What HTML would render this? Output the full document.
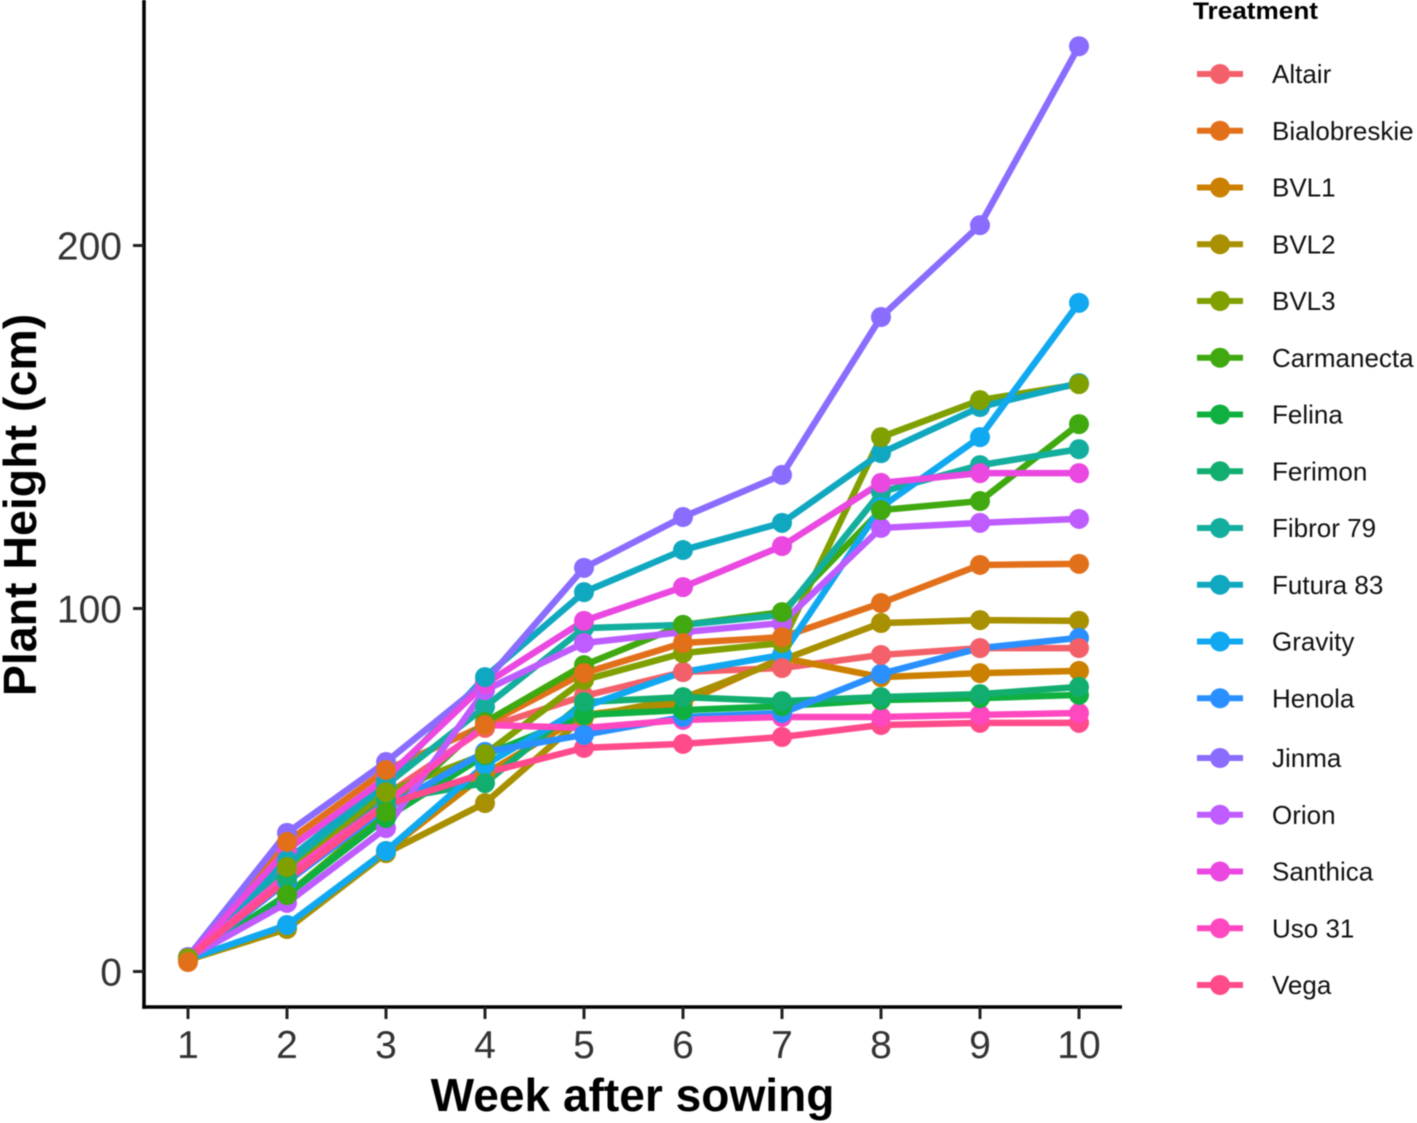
<!DOCTYPE html>
<html lang="en">
<head>
<meta charset="utf-8">
<title>Plant Height by Treatment</title>
<style>
html,body{margin:0;padding:0;background:#fff;}
svg{display:block;font-family:"Liberation Sans",Arial,sans-serif;filter:blur(0.5px);}
</style>
</head>
<body>
<svg id="chart" xmlns="http://www.w3.org/2000/svg" width="1417" height="1123" viewBox="0 0 1417 1123">
  <rect x="0" y="0" width="1417" height="1123" fill="#ffffff"/>
  <g id="marks"></g>
  <g id="axes"></g>
  <g id="legend"></g>
  <text x="632.5" y="1111" text-anchor="middle" font-size="46.1" font-weight="700" fill="#000">Week after sowing</text>
  <text transform="translate(36,505) rotate(-90)" text-anchor="middle" font-size="46.5" font-weight="700" fill="#000">Plant Height (cm)</text>
  <text x="1193" y="19" font-weight="700" fill="#000" style="font-size:24px" textLength="125" lengthAdjust="spacingAndGlyphs">Treatment</text>
</svg>
<script>
const weeks = [1, 2, 3, 4, 5, 6, 7, 8, 9, 10];
const yTicks = [0, 100, 200];
const treatments = ["Altair", "Bialobreskie", "BVL1", "BVL2", "BVL3", "Carmanecta", "Felina", "Ferimon", "Fibror 79", "Futura 83", "Gravity", "Henola", "Jinma", "Orion", "Santhica", "Uso 31", "Vega"];
const colors = ["#F4606A", "#E2701B", "#CC8000", "#A89000", "#80A000", "#3FA90F", "#10B040", "#12AE70", "#14AE9E", "#10A8C0", "#10A8F0", "#2A90FF", "#8A6CFF", "#BE5CFF", "#EA48E0", "#FF48C0", "#FF4A8C"];
const altair = [3.4, 27.4, 48.6, 67.1, 75.9, 82.5, 83.6, 87.2, 89.1, 89.1];
const bialobreskie = [2.6, 35.7, 55.5, 67.9, 82.2, 90.5, 92.1, 101.5, 112.0, 112.3];
const bvl1 = [3.2, 12.0, 33.2, 54.4, 70.7, 74.0, 86.4, 81.1, 82.2, 82.8];
const bvl2 = [3.2, 11.7, 32.6, 46.4, 70.1, 75.3, 85.8, 96.0, 96.8, 96.6];
const bvl3 = [3.7, 28.8, 49.4, 59.9, 80.3, 87.7, 90.5, 147.2, 157.4, 161.8];
const carmanecta = [3.4, 21.1, 43.9, 68.7, 84.4, 95.5, 99.0, 127.1, 129.6, 150.8];
const felina = [3.4, 21.1, 42.3, 59.6, 70.7, 72.0, 73.1, 74.8, 75.3, 76.2];
const ferimon = [3.4, 25.8, 47.2, 51.9, 74.2, 75.6, 74.5, 75.6, 76.4, 78.4];
const fibror79 = [3.7, 29.3, 51.4, 72.9, 94.6, 95.5, 98.2, 132.1, 139.5, 143.9];
const futura83 = [3.7, 30.7, 52.2, 81.1, 104.5, 116.1, 123.6, 142.8, 155.5, 162.1];
const gravity = [3.4, 12.8, 33.2, 56.9, 72.9, 82.5, 87.2, 127.9, 147.2, 184.2];
const henola = [3.4, 24.7, 45.0, 60.5, 65.2, 70.1, 71.2, 82.0, 89.1, 91.9];
const jinma = [4.0, 38.2, 57.7, 79.8, 111.2, 125.2, 136.8, 180.3, 205.6, 254.9];
const orion = [3.7, 18.9, 39.5, 77.5, 90.5, 93.5, 96.0, 122.2, 123.6, 124.7];
const santhica = [3.7, 33.5, 53.3, 79.2, 96.6, 105.9, 117.2, 134.6, 137.3, 137.3];
const uso31 = [3.7, 26.6, 46.4, 67.9, 67.1, 69.3, 70.1, 70.1, 70.7, 71.2];
const vega = [3.7, 25.2, 45.9, 54.7, 61.6, 62.7, 64.6, 67.9, 68.5, 68.5];
const seriesValues = [altair, bialobreskie, bvl1, bvl2, bvl3, carmanecta, felina, ferimon, fibror79, futura83, gravity, henola, jinma, orion, santhica, uso31, vega];
const pointOrder = ["Vega", "Jinma", "Fibror 79", "Orion", "Santhica", "Uso 31", "BVL1", "BVL2", "Henola", "Gravity", "Altair", "Futura 83", "Felina", "Ferimon", "Carmanecta", "BVL3", "Bialobreskie"];

const NS = "http://www.w3.org/2000/svg";
function xScale(w) { return 188 + (w - 1) * 99; }
function yScale(v) { return 971.5 - v * 3.63; }
function legendY(i) { return 74 + i * 56.75 + (i >= 12 ? 3 : 0); }
function make(tag, attrs, parent) {
  const el = document.createElementNS(NS, tag);
  for (const k in attrs) el.setAttribute(k, attrs[k]);
  parent.appendChild(el);
  return el;
}
function slug(s) { return s.toLowerCase().replace(/\s+/g, "-"); }

const marks = document.getElementById("marks");
const axes = document.getElementById("axes");
const legend = document.getElementById("legend");

treatments.forEach(function (name, i) {
  const pts = weeks.map(function (w, j) { return xScale(w) + "," + yScale(seriesValues[i][j]); }).join(" ");
  const line = make("polyline", { points: pts, fill: "none", stroke: colors[i], "stroke-width": 6.5, "stroke-linejoin": "round" }, marks);
  
  
});

pointOrder.forEach(function (name) {
  const i = treatments.indexOf(name);
  weeks.forEach(function (w, j) {
    const dot = make("circle", { cx: xScale(w), cy: yScale(seriesValues[i][j]), r: 10, fill: colors[i] }, marks);
    
    
  });
});

const yAxisLine = make("line", { x1: 144, y1: 0, x2: 144, y2: 1008.7, stroke: "#000", "stroke-width": 3.5 }, axes);


const xAxisLine = make("line", { x1: 142.3, y1: 1007, x2: 1122, y2: 1007, stroke: "#000", "stroke-width": 3.5 }, axes);



yTicks.forEach(function (t) {
  const tick = make("line", { x1: 133, y1: yScale(t), x2: 144, y2: yScale(t), stroke: "#222", "stroke-width": 3 }, axes);
  
  
  const label = make("text", { x: 122, y: yScale(t) + 14, "text-anchor": "end", "font-size": 39, fill: "#333" }, axes);
  
  
  label.textContent = t;
});

weeks.forEach(function (w) {
  const tick = make("line", { x1: xScale(w), y1: 1007, x2: xScale(w), y2: 1019, stroke: "#222", "stroke-width": 3 }, axes);
  
  
  const label = make("text", { x: xScale(w), y: 1058, "text-anchor": "middle", "font-size": 39, fill: "#333" }, axes);
  
  
  label.textContent = w;
});

treatments.forEach(function (name, i) {
  const cy = legendY(i);
  const g = make("g", {}, legend);
  
  
  make("line", { x1: 1197, y1: cy, x2: 1243, y2: cy, stroke: colors[i], "stroke-width": 6 }, g);
  make("circle", { cx: 1220, cy: cy, r: 10, fill: colors[i] }, g);
  const label = make("text", { x: 1272, y: cy + 9, "font-size": 26, fill: "#111" }, g);
  label.textContent = name;
});
</script>
</body>
</html>
